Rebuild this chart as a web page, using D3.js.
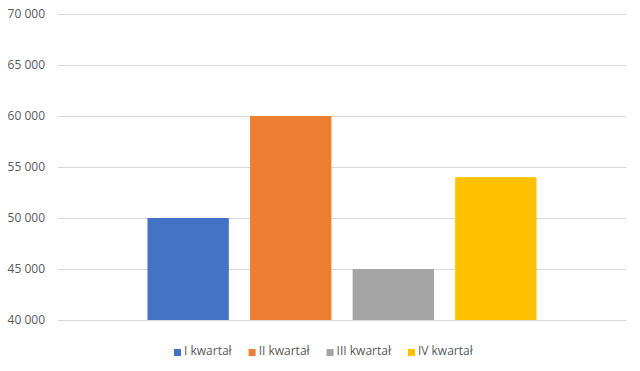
<!DOCTYPE html>
<html lang="pl">
<head>
<meta charset="utf-8" />
<title>Kwartały</title>
<script src="https://cdn.jsdelivr.net/npm/d3@7"></script>
<style>
  body { margin: 0; background: #fff; }
  svg { display: block; font-family: "Open Sans", sans-serif; }
</style>
</head>
<body>
<script>
  // data
  const categories = ["Sprzedaż"];
  const series = ["I kwartał", "II kwartał", "III kwartał", "IV kwartał"];
  const values = [50000, 60000, 45000, 54000];
  const colors = ["#4472C4", "#ED7D31", "#A5A5A5", "#FFC000"];
  const yTicks = [40000, 45000, 50000, 55000, 60000, 65000, 70000];

  const W = 640, H = 371;
  const margin = {left: 58, right: 14, top: 14, bottom: 51};

  const svg = d3.select("body").append("svg")
      .attr("width", W)
      .attr("height", H);

  let y = d3.scaleLinear([40000, 70000], [H - margin.bottom, margin.top]);
  let x0 = d3.scaleBand(categories, [margin.left, W - margin.right])
      .paddingInner(0)
      .paddingOuter(0.23);
  let x1 = d3.scaleBand(series, [0, x0.bandwidth()])
      .paddingInner(0.207)
      .paddingOuter(0);

  // gridlines + labels
  let yAxisG = svg.append("g")
      .attr("transform", `translate(${margin.left},0)`)
      .call(d3.axisLeft(y)
        .tickValues(yTicks)
        .tickSize(-(W - margin.left - margin.right))
        .tickPadding(13)
        .tickFormat(d => d3.format(",")(d).replace(/,/g, " ")));

  yAxisG.select(".domain").remove();
  yAxisG.selectAll(".tick line")
      .attr("stroke", "#d9d9d9")
      .attr("stroke-width", 1);
  yAxisG.selectAll(".tick text")
      .attr("fill", "#595959")
      .style("font-size", "12px")
      .style("font-family", "'Open Sans', sans-serif");

  // bars
  let rows = [];
  categories.forEach(c => series.forEach((s, i) => rows.push({cat: c, s: s, v: values[i], color: colors[i]})));

  svg.append("g")
      .selectAll("rect")
      .data(rows)
      .join("rect")
      .attr("x", d => x0(d.cat) + x1(d.s))
      .attr("y", d => y(d.v))
      .attr("width", x1.bandwidth())
      .attr("height", d => y(40000) - y(d.v))
      .attr("fill", d => d.color);

  // legend, centred below the plot
  let legend = svg.append("g");
  let items = legend.selectAll("g")
      .data(series)
      .join("g");
  items.append("rect")
      .attr("width", 7)
      .attr("height", 7)
      .attr("y", -6)
      .attr("fill", (d, i) => colors[i]);
  items.append("text")
      .attr("x", 10)
      .attr("fill", "#595959")
      .style("font-size", "12px")
      .text(d => d);

  let pos = 0;
  items.each(function () {
    let g = d3.select(this);
    g.attr("transform", `translate(${pos},0)`);
    pos += 10 + g.select("text").node().getComputedTextLength() + 17;
  });
  pos -= 17;
  legend.attr("transform", `translate(${Math.round(323 - pos / 2)},355)`);
</script>
</body>
</html>
